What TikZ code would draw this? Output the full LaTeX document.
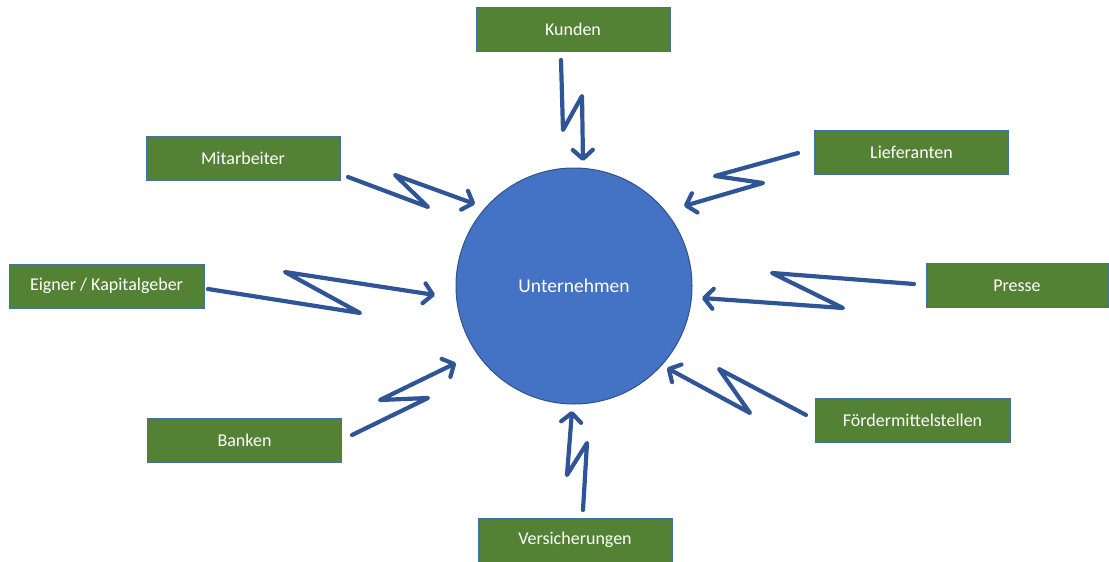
\documentclass[tikz,border=0pt]{standalone}
\usepackage{fontspec}
\setmainfont{Carlito}
\usetikzlibrary{arrows.meta}
\definecolor{boxgreen}{HTML}{548235}
\definecolor{boxedge}{HTML}{41719C}
\definecolor{circfill}{HTML}{4472C4}
\definecolor{circedge}{HTML}{2F528F}
\definecolor{boltblue}{HTML}{2F5597}
\begin{document}
\begin{tikzpicture}[x=1pt,y=-1pt,
  stake/.style={draw=boxedge, line width=1pt, fill=boxgreen, text=white,
    minimum width=194pt, minimum height=44pt, inner sep=0pt, font=\fontsize{18}{21}\selectfont},
  bolt/.style={draw=boltblue, line width=4.2pt, line cap=round, line join=round,
    -{Straight Barb[length=9pt,width=20pt,round]}}]
\useasboundingbox (0,0) rectangle (1109,562);
\node[circle, draw=circedge, line width=1pt, fill=circfill, minimum size=236pt, inner sep=0pt,
  text=white, font=\fontsize{19.5}{23}\selectfont] (u) at (574,286) {Unternehmen};
\node[stake] (kunden) at (573,29.5) {Kunden};
\node[stake] (mitarb) at (243,158.5) {Mitarbeiter};
\node[stake] (liefer) at (911.5,152.5) {Lieferanten};
\node[stake, minimum width=195pt] (eigner) at (106.5,286) {Eigner / Kapitalgeber};
\node[stake, minimum width=182pt] (presse) at (1017,285.5) {Presse};
\node[stake] (banken) at (244.5,440.5) {Banken};
\node[stake, minimum width=195pt] (foerder) at (912.5,420) {Fördermittelstellen};
\node[stake] (versich) at (575,540) {Versicherungen};
% bolt start coordinates and arrow tips
\coordinate (k0) at (561,60);   \coordinate (k3) at (583,161);
\coordinate (m0) at (348,177);  \coordinate (m3) at (475,204);
\coordinate (e0) at (208,289);  \coordinate (e3) at (435,295);
\coordinate (b0) at (352,435);  \coordinate (b3) at (456,363);
\coordinate (v0) at (583,510);  \coordinate (v3) at (572,411);
\coordinate (f0) at (806,415);  \coordinate (f3) at (667,368);
\coordinate (p0) at (914,284);  \coordinate (p3) at (702,298);
\coordinate (l0) at (798,153);  \coordinate (l3) at (684,206);
\draw[bolt] (k0) -- (563,130) -- (582,96) -- (k3);
\draw[bolt] (m0) -- (428,207) -- (395,175) -- (m3);
\draw[bolt] (e0) -- (360,313) -- (285,272) -- (e3);
\draw[bolt] (b0) -- (428,398) -- (380,400) -- (b3);
\draw[bolt] (v0) -- (587,443) -- (567,475) -- (v3);
\draw[bolt] (f0) -- (719,369) -- (750,413) -- (f3);
\draw[bolt] (p0) -- (772,273) -- (843,308) -- (p3);
\draw[bolt] (l0) -- (715,176) -- (763,183) -- (l3);
\end{tikzpicture}
\end{document}
